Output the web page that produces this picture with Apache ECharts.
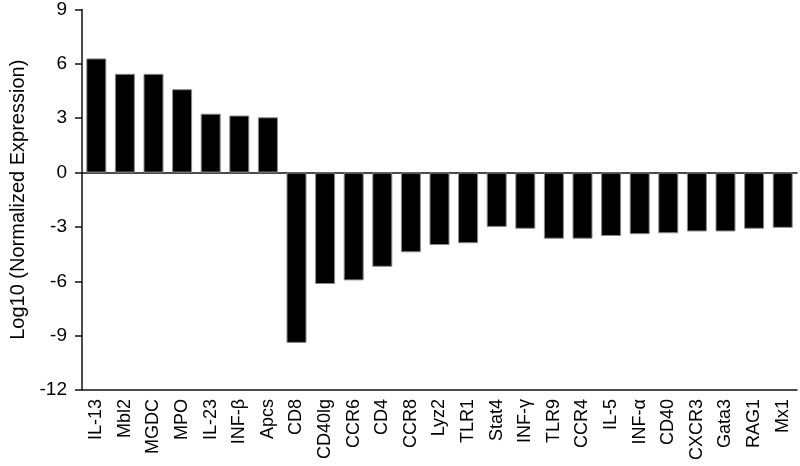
<!DOCTYPE html>
<html>
<head>
<meta charset="utf-8">
<script src="https://cdn.jsdelivr.net/npm/echarts@6/dist/echarts.min.js"></script>
<style>
    html, body { margin: 0; padding: 0; background: #fff; }
    #chart { width: 800px; height: 466px; }
</style>
</head>
<body>
<div id="chart"></div>
<script>
    // gene names along the x axis
    var genes = ['IL-13', 'Mbl2', 'MGDC', 'MPO', 'IL-23', 'INF-β', 'Apcs', 'CD8', 'CD40lg', 'CCR6',
        'CD4', 'CCR8', 'Lyz2', 'TLR1', 'Stat4', 'INF-γ', 'TLR9', 'CCR4', 'IL-5', 'INF-α',
        'CD40', 'CXCR3', 'Gata3', 'RAG1', 'Mx1'];
    // log10 normalized expression
    var expression = [6.3, 5.45, 5.45, 4.6, 3.25, 3.15, 3.05, -9.4, -6.15, -5.95,
        -5.2, -4.4, -4.0, -3.9, -3.0, -3.1, -3.65, -3.65, -3.5, -3.4,
        -3.35, -3.25, -3.25, -3.1, -3.05];
    var yTicks = [-12, -9, -6, -3, 0, 3, 6, 9];

    var font = 'Liberation Sans, Arial, sans-serif';
    var chart = echarts.init(document.getElementById('chart'));

    var option = {
        animation: false,
        grid: { left: 72, right: 3, top: 9, bottom: 76 },
        xAxis: [
            {
                type: 'category',
                data: genes,
                axisLine: { onZero: false, lineStyle: { color: '#111', width: 1.5 } },
                axisTick: { alignWithLabel: true, length: 7, lineStyle: { color: '#111', width: 1.5 } },
                axisLabel: { rotate: 90, margin: 9, color: '#000', fontSize: 18, fontFamily: font, interval: 0 }
            },
            {
                // the zero line across the bars
                type: 'category',
                data: genes,
                position: 'top',
                axisLine: { onZero: true, lineStyle: { color: '#111', width: 1.5 } },
                axisTick: { show: false },
                axisLabel: { show: false }
            }
        ],
        yAxis: {
            type: 'value',
            min: yTicks[0],
            max: yTicks[yTicks.length - 1],
            interval: 3,
            name: 'Log10 (Normalized Expression)',
            nameLocation: 'middle',
            nameGap: 54,
            nameTextStyle: { color: '#000', fontSize: 20, fontFamily: font },
            axisLine: { show: true, lineStyle: { color: '#111', width: 1.5 } },
            axisTick: { show: true, length: 7, lineStyle: { color: '#111', width: 1.5 } },
            axisLabel: { margin: 15, color: '#000', fontSize: 19, fontFamily: font },
            splitLine: { show: false }
        },
        series: [{
            type: 'bar',
            data: expression,
            barWidth: 20,
            itemStyle: { color: '#000', borderColor: '#8a8a8a', borderWidth: 1 }
        }]
    };
    chart.setOption(option);
</script>
</body>
</html>
